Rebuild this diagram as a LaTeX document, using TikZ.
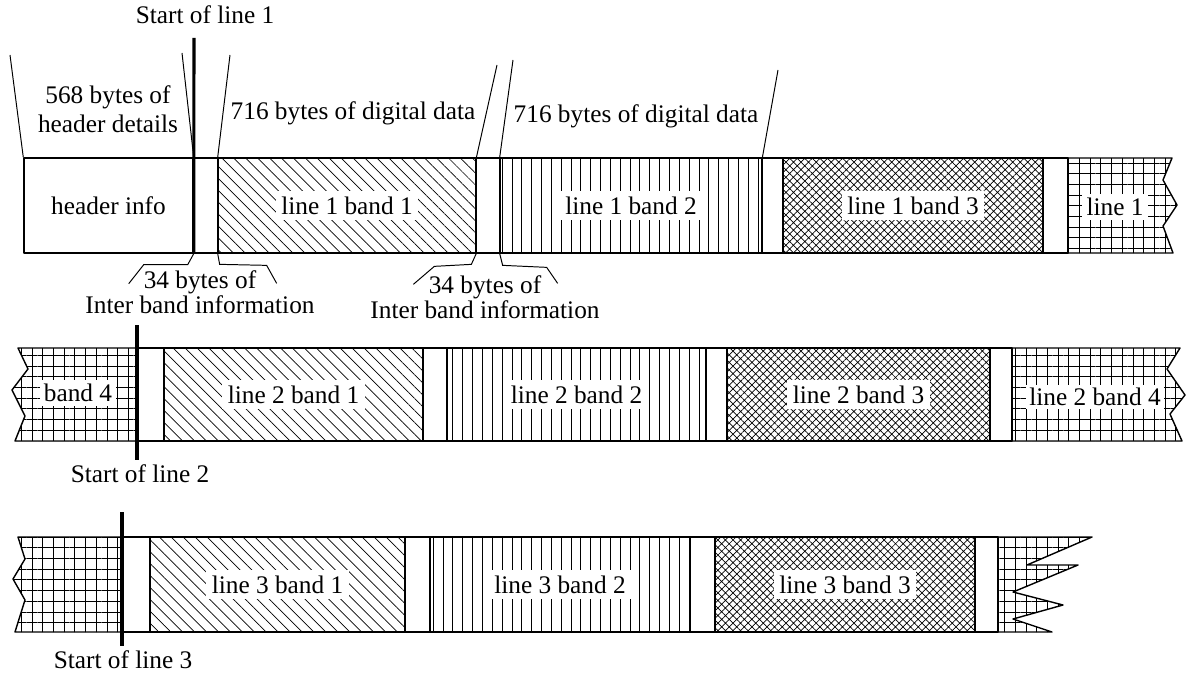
\documentclass[tikz,border=0pt]{standalone}
\usepackage{fontspec}
\setmainfont{Liberation Serif}
\usetikzlibrary{patterns.meta,fit}
\tikzset{
  seg/.style={draw,line width=1pt,inner sep=0pt,line join=round},
  spacer/.style={seg,fill=white},
  diag/.style={seg,pattern={Lines[angle=-45,distance=6pt,line width=0.5pt]}},
  vert/.style={seg,pattern={Lines[angle=90,distance=7pt,line width=0.5pt]}},
  xhatch/.style={seg,pattern={Hatch[angle=45,distance=3.8pt,line width=0.5pt]}},
  mesh/.style={seg,pattern={Hatch[angle=0,distance=7.6pt,line width=0.5pt]}},
  tag/.style={fill=white,inner sep=4pt},
  lead/.style={line width=0.7pt},
  startline/.style={line width=2.2pt}
}
\begin{document}
\begin{tikzpicture}[x=0.025cm,y=-0.025cm,font=\fontsize{18}{21}\selectfont]
\useasboundingbox (0,0) rectangle (1189,676);
% line 1
\node[spacer,fit={(24,158) (193,253)},label={center:header info}] (hdr) {};
\node[spacer,fit={(193,158) (218,253)}] (g11) {};
\node[diag,fit={(218,158) (476,253)},label={[tag]center:line 1 band 1}] (b11) {};
\node[spacer,fit={(476,158) (500,253)}] (g12) {};
\node[vert,fit={(500,158) (762,253)},label={[tag]center:line 1 band 2}] (b12) {};
\node[spacer,fit={(762,158) (783,253)}] (g13) {};
\node[xhatch,fit={(783,158) (1043,253)},label={[tag]center:line 1 band 3}] (b13) {};
\node[spacer,fit={(1043,158) (1068,253)}] (g14) {};
\draw[mesh] (1068,158) -- (1172,158) -- (1163,180) -- (1177,205) -- (1163,226) -- (1173,253) -- (1068,253) -- cycle;
\node[tag,inner sep=3pt] (t14) at (1115,207) {line 1};
% labels above and below line 1
\node (st1) at (205,15) {Start of line 1};
\coordinate (s1) at (194,38);
\draw[startline] (s1) -- (hdr.south east);
\node[align=center] (hd) at (108,109) {568 bytes of\\header details};
\coordinate (h1) at (10,55); \coordinate (h2) at (182,53);
\draw[lead] (h1) -- (hdr.north west) (h2) -- (hdr.north east);
\node (dd1) at (353,113) {716 bytes of digital data};
\coordinate (d1) at (230,55); \coordinate (d2) at (497,65);
\draw[lead] (d1) -- (b11.north west) (d2) -- (b11.north east);
\node (dd2) at (636,116) {716 bytes of digital data};
\coordinate (d3) at (513,60); \coordinate (d4) at (778,70);
\draw[lead] (d3) -- (b12.north west) (d4) -- (b12.north east);
\node[align=center] (ib1) at (200,292) {34 bytes of\\[-3pt]Inter band information};
\draw[lead] (hdr.south east) -- ++(-6,11) -- ++(-44,0) -- ++(-15,19);
\draw[lead] (b11.south west) -- ++(2,11) -- ++(47,1) -- ++(10,18);
\node[align=center] (ib2) at (485,297) {34 bytes of\\[-3pt]Inter band information};
\draw[lead] (b11.south east) -- ++(-5,11) -- ++(-37,2) -- ++(-21,18);
\draw[lead] (b12.south west) -- ++(3,12) -- ++(44,2) -- ++(11,16);
% line 2
\draw[mesh] (137,348) -- (18,348) -- (28,369) -- (12,390) -- (25,416) -- (15,441) -- (137,441) -- cycle;
\node[tag,inner sep=3pt] (t20) at (78,393) {band 4};
\node[spacer,fit={(137,348) (164,441)}] (g21) {};
\node[diag,fit={(164,348) (423,441)},label={[tag]center:line 2 band 1}] (b21) {};
\node[spacer,fit={(423,348) (447,441)}] (g22) {};
\node[vert,fit={(447,348) (706,441)},label={[tag]center:line 2 band 2}] (b22) {};
\node[spacer,fit={(706,348) (727,441)}] (g23) {};
\node[xhatch,fit={(727,348) (990,441)},label={[tag]center:line 2 band 3}] (b23) {};
\node[spacer,fit={(990,348) (1012,441)}] (g24) {};
\draw[mesh] (1012,348) -- (1180,348) -- (1167,369) -- (1185,395) -- (1170,414) -- (1182,441) -- (1012,441) -- cycle;
\node[tag,inner sep=2pt] (t24) at (1095,397) {line 2 band 4};
\node (st2) at (140,474) {Start of line 2};
\coordinate (s2) at (137,325);
\draw[startline] (s2) -- (s2 |- st2.north);
% line 3
\draw[mesh] (122,537) -- (18,537) -- (25,559) -- (13,579) -- (25,600) -- (15,632) -- (122,632) -- cycle;
\node[spacer,fit={(122,537) (150,632)}] (g31) {};
\node[diag,fit={(150,537) (405,632)},label={[tag]center:line 3 band 1}] (b31) {};
\node[spacer,fit={(405,537) (430,632)}] (g32) {};
\node[vert,fit={(430,537) (690,632)},label={[tag]center:line 3 band 2}] (b32) {};
\node[spacer,fit={(690,537) (715,632)}] (g33) {};
\node[xhatch,fit={(715,537) (975,632)},label={[tag]center:line 3 band 3}] (b33) {};
\node[spacer,fit={(975,537) (998,632)}] (g34) {};
\draw[mesh] (998,537) -- (1092,537) -- (1027,565) -- (1078,565) -- (1013,592) -- (1063,605) -- (1013,619) -- (1052,632) -- (998,632) -- cycle;
\node (st3) at (123,660) {Start of line 3};
\coordinate (s3) at (122,512);
\draw[startline] (s3) -- (s3 |- st3.north);
\end{tikzpicture}
\end{document}
